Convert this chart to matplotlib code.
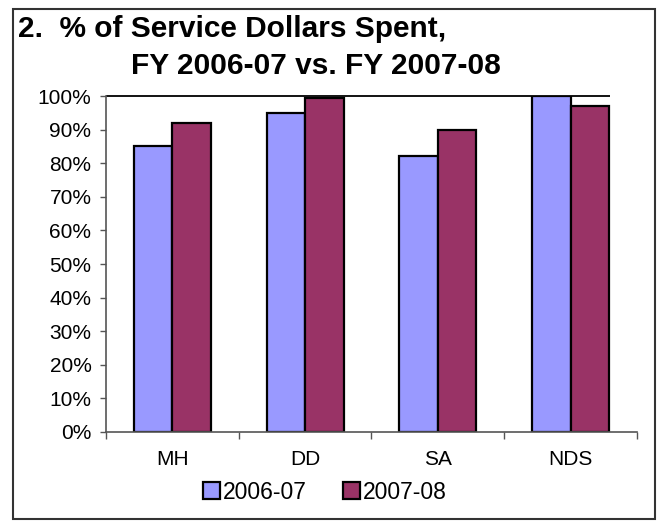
import numpy as np
import matplotlib.pyplot as plt
from matplotlib.patches import Rectangle
from matplotlib.ticker import FuncFormatter

plt.rcParams['font.family'] = ['Liberation Sans', 'DejaVu Sans']

# datos
categorias = ["MH", "DD", "SA", "NDS"]
fy_2006 = [85, 95, 82, 100]
fy_2007 = [92, 99.5, 90, 97]
series = ["2006-07", "2007-08"]

fig = plt.figure(figsize=(6.6, 5.23), dpi=100)
# marco exterior
fig.patches.append(Rectangle((0.0197, 0.0076), 0.9727, 0.975, transform=fig.transFigure,
                             fill=False, edgecolor='#333333', linewidth=1.5))

ax = fig.add_axes([0.1606, 0.174, 0.8045, 0.6424])
x = np.arange(len(categorias))
w = 0.29
b1 = ax.bar(x - w/2, fy_2006, w, color='#9999FF', edgecolor='black', linewidth=1.6, label=series[0])
b2 = ax.bar(x + w/2, fy_2007, w, color='#993366', edgecolor='black', linewidth=1.6, label=series[1])

ax.set_xlim(-0.5, 3.5)
ax.set_ylim(0, 100)
ax.set_yticks(np.arange(0, 101, 10))
ax.yaxis.set_major_formatter(FuncFormatter(lambda v, p: f"{v:.0f}%"))
ax.set_xticks(x)
ax.set_xticklabels(categorias)
ax.set_xticks(np.arange(-0.5, 4, 1), minor=True)
ax.tick_params(axis='x', which='major', length=0, pad=13, labelsize=15)
ax.tick_params(axis='x', which='minor', length=5, width=1, color='#555555')
ax.tick_params(axis='y', length=4.5, width=1, color='#555555', labelsize=15, pad=6)

# linea superior solo hasta el ultimo grupo, como en el original
ax.spines['top'].set_visible(False)
ax.spines['right'].set_visible(False)
ax.hlines(100, -0.5, 3.3, color='black', linewidth=1.3, zorder=1, clip_on=False)
for s in ['left', 'bottom']:
    ax.spines[s].set_linewidth(1.2)
    ax.spines[s].set_color('#555555')

fig.text(0.028, 0.945, "2.  % of Service Dollars Spent,", fontsize=21.5, fontweight='bold',
         va='center', ha='left')
fig.text(0.478, 0.874, "FY 2006-07 vs. FY 2007-08", fontsize=21.5, fontweight='bold',
         va='center', ha='center')

fig.legend(handles=[b1, b2], loc='center', bbox_to_anchor=(0.492, 0.059), ncol=2, frameon=False,
           fontsize=16.5, handlelength=0.75, handleheight=0.75, handletextpad=0.1,
           columnspacing=1.6, borderpad=0)

plt.savefig("out.png", dpi=100)
